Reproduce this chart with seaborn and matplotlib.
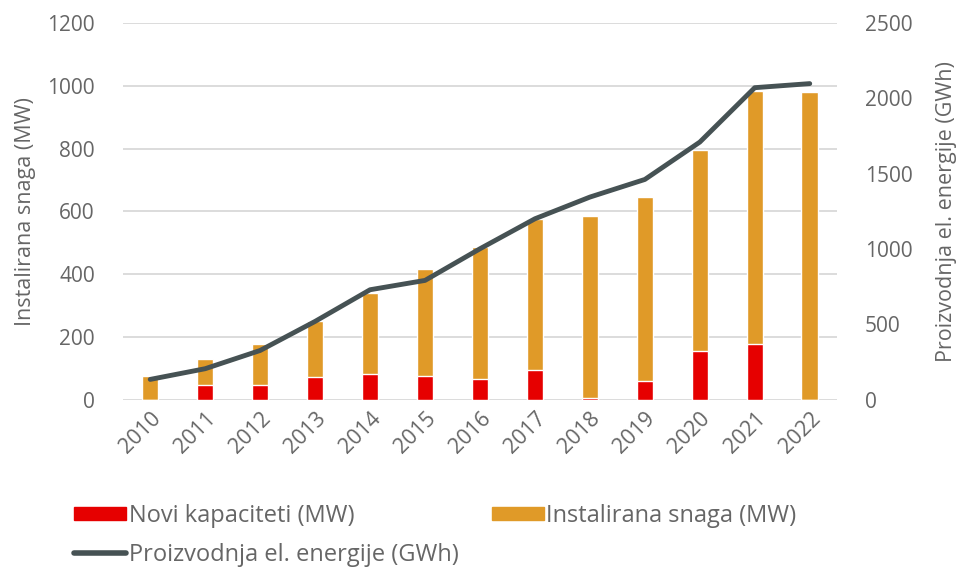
import pandas as pd
import matplotlib
matplotlib.use("Agg")
import matplotlib.pyplot as plt
import seaborn as sns
from matplotlib.patches import Patch
from matplotlib.lines import Line2D

years = ['2010', '2011', '2012', '2013', '2014', '2015', '2016',
         '2017', '2018', '2019', '2020', '2021', '2022']
instalirana = [75, 129, 179, 251, 340, 418, 486, 575, 584, 646, 797, 983, 979]
novi = [0, 48, 48, 72, 83, 75, 65, 94, 6, 59, 155, 178, 0]
proizvodnja = [135, 206, 327, 520, 730, 792, 1002, 1201, 1345, 1462, 1710, 2071, 2098]

red = '#e60000'
orange = '#e09a28'
dark = '#465254'
txt = '#666666'

df = pd.DataFrame({'godina': years, 'instalirana': instalirana,
                   'novi': novi, 'proizvodnja': proizvodnja})

sns.set_theme(style="white")
plt.rcParams['font.family'] = ['Open Sans', 'DejaVu Sans']

fig = plt.figure(figsize=(9.59, 5.76), dpi=100)
ax = fig.add_axes([0.128, 0.306, 0.745, 0.654])

sns.barplot(data=df, x='godina', y='instalirana', color=orange, width=0.3,
            saturation=1, ax=ax)
sns.barplot(data=df, x='godina', y='novi', color=red, width=0.3,
            saturation=1, ax=ax)
ax.set_ylim(0, 1200)
ax.set_yticks(range(0, 1201, 200))
ax.set_xlim(-0.5, 12.5)
ax.yaxis.grid(True, color='#d9d9d9', linewidth=1.3)
ax.set_axisbelow(True)
ax.set_xlabel('')
ax.set_ylabel('Instalirana snaga (MW)', fontsize=15.5, color=txt, labelpad=8)
ax.tick_params(axis='y', labelsize=15, labelcolor=txt, length=0, pad=20)
ax.tick_params(axis='x', labelsize=15.5, labelcolor=txt, length=0, pad=6)
for lbl in ax.get_xticklabels():
    lbl.set_rotation(45)
    lbl.set_ha('right')
    lbl.set_rotation_mode('anchor')

ax2 = ax.twinx()
sns.pointplot(data=df, x='godina', y='proizvodnja', color=dark, markers='',
              linewidth=3.5, ax=ax2)
ax2.set_ylim(0, 2500)
ax2.set_yticks(range(0, 2501, 500))
ax2.set_xlim(-0.5, 12.5)
ax2.set_ylabel('Proizvodnja el. energije (GWh)', fontsize=15.5, color=txt, labelpad=17)
ax2.tick_params(axis='y', labelsize=15, labelcolor=txt, length=0, pad=20)
ax2.grid(False)

for a in (ax, ax2):
    for s in a.spines.values():
        s.set_visible(False)

# matplotlib fills legend columns first
handles = [Patch(color=red), Line2D([], [], color=dark, linewidth=4),
           Patch(color=orange)]
labels = ['Novi kapaciteti (MW)', 'Proizvodnja el. energije (GWh)',
          'Instalirana snaga (MW)']
fig.legend(handles, labels, ncol=2, loc='upper left',
           bbox_to_anchor=(0.055, 0.162), frameon=False, fontsize=17,
           labelcolor=txt, handlelength=2.2, handleheight=0.5,
           handletextpad=0.12, columnspacing=1.4, labelspacing=0.62)
fig.savefig('out.png', dpi=100)
